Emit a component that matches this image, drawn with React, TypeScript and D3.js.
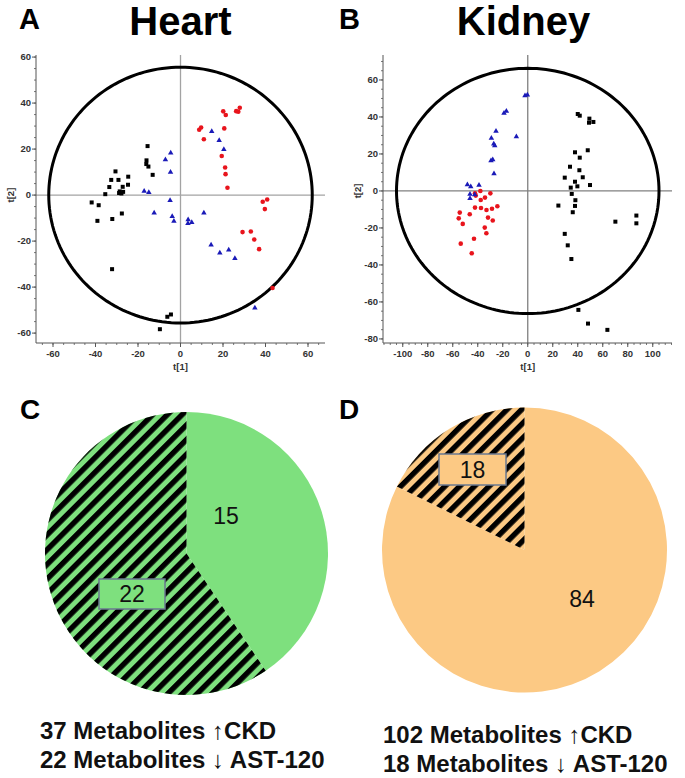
import React from "react";
import * as d3 from "d3";

type P = [number, number];

// ---------- Heart PCA scores ----------
const heartBlack: P[] = [
  [-15.5, 21.3], [-16, 15.1], [-16.1, 13.5], [-15.1, 12.4], [-13.1, 8.8], [-30.6, 10.3],
  [-32.6, 6.6], [-29.2, 6.6], [-24.6, 8.0], [-33.5, 3.5], [-24.7, 4.5], [-27.2, 3.6],
  [-28.6, 1.6], [-27.8, 0.7], [-27.0, 1.4], [-28.9, 0.9], [-35.4, 0.4], [-41.8, -3.2],
  [-38.5, -4.4], [-39.1, -11.2], [-27.6, -8.0], [-32.1, -10.4], [-32.2, -32.2],
  [-6.2, -52.9], [-4.5, -51.9], [-9.7, -58.3],
];
const heartRed: P[] = [
  [27.9, 38], [27.2, 36.2], [26.2, 36.5], [20.1, 36.4], [21.3, 34.8], [9.7, 29.4],
  [8.8, 28.4], [11, 24.3], [20.6, 29], [19.4, 17], [21, 12], [21.2, 9.1], [22.1, 3.2],
  [40.8, -1.9], [38.7, -2.9], [39.7, -6.1], [29.2, -16.1], [33.1, -15.8], [34.7, -19.3],
  [37, -23.5], [43.3, -40.4],
];
const heartBlue: P[] = [
  [14.7, 27.7], [18.2, 23.8], [20.4, 19.9], [-4.6, 18.3], [-7.1, 15.4], [-4.7, 10],
  [-17.1, 1.7], [-14.9, 1.2], [-4.9, -2.3], [-12.4, -7.7], [-3.9, -9.3], [-3.1, -11.3],
  [3.6, -10.7], [3.5, -12.3], [5.3, -11.9], [11, -7.8], [14.4, -21.7], [18.5, -25.1],
  [22.7, -23.8], [25.6, -27.5], [35, -49.1],
];

// ---------- Kidney PCA scores ----------
const kidneyBlack: P[] = [
  [40, 41.6], [41.6, 40.7], [49.3, 39.1], [49, 36.9], [52.5, 37.3], [37.8, 20.9],
  [48, 22], [41.6, 18], [33.8, 13.1], [41.3, 11.2], [29.6, 7.2], [44, 7.4], [37.8, 5],
  [39.7, 2.5], [49.8, 3.2], [34.4, 1.8], [35.2, -1.6], [38.1, -5], [24.5, -7.9],
  [37.8, -8.1], [36, -11.5], [70.1, -16.6], [86.9, -13.3], [86.9, -17.5], [29.6, -23.2],
  [32, -29.4], [34.9, -36.8], [40.5, -64.3], [48.2, -71.7], [63.7, -75.1],
];
const kidneyRed: P[] = [
  [-37.9, 0], [-42.2, -1.3], [-41.6, -2.5], [-37.6, -4.9], [-34.2, -3.6], [-29.9, -1.3],
  [-42.2, -9], [-37.4, -9.2], [-33, -10.3], [-24.3, -8.3], [-28.6, -9.6], [-54.4, -11.7],
  [-46.4, -12.6], [-55.2, -14.8], [-52, -17.8], [-31.8, -14.4], [-28, -16], [-34.4, -19.8],
  [-33.1, -22.9], [-43, -25.8], [-53.6, -28.5], [-44.8, -33.7],
];
const kidneyBlue: P[] = [
  [-2.2, 51.5], [-0.3, 51.9], [-19, 42], [-17.1, 43.1], [-25.4, 32.3], [-9.1, 29.4],
  [-29.1, 28.6], [-27.2, 25.4], [-26.4, 24.5], [-29.4, 16.4], [-28, 16.9], [-27, 9.4],
  [-48.3, 3.4], [-45.6, 2.3], [-39, 3.1], [-46.2, -1.8], [-42.4, -2], [-46.2, -4.1],
];

const heartXTicks = [-60, -40, -20, 0, 20, 40, 60];
const heartYTicks = [-60, -40, -20, 0, 20, 40, 60];
const kidneyXTicks = [-100, -80, -60, -40, -20, 0, 20, 40, 60, 80, 100];
const kidneyYTicks = [-80, -60, -40, -20, 0, 20, 40, 60];

// ---------- Pie data ----------
const heartPie = [15, 22]; // plain, hatched
const kidneyPie = [84, 18]; // plain, hatched
const heartLines = ["37 Metabolites \u2191CKD", "22 Metabolites \u2193 AST-120"];
const kidneyLines = ["102 Metabolites \u2191CKD", "18 Metabolites \u2193 AST-120"];

const FONT = "'Liberation Sans', Arial, Helvetica, sans-serif";

type ScatterProps = {
  xDomain: [number, number];
  yDomain: [number, number];
  xRange: [number, number];
  yRange: [number, number];
  xTicks: number[];
  yTicks: number[];
  rx: number;
  ry: number;
  black: P[];
  red: P[];
  blue: P[];
  crossColor: string;
};

function Scatter(p: ScatterProps) {
  const x = d3.scaleLinear().domain(p.xDomain).range(p.xRange);
  const y = d3.scaleLinear().domain(p.yDomain).range(p.yRange);
  const axisColor = "#555";
  const minorX = d3.range(Math.ceil(p.xDomain[0] / 5) * 5, p.xDomain[1], 5);
  const minorY = d3.range(Math.ceil(p.yDomain[0] / 5) * 5, p.yDomain[1], 5);
  const tri = d3.symbol().type(d3.symbolTriangle).size(13)() as string;
  const x0 = p.xRange[0];
  const yb = p.yRange[0];
  const ellipse = d3.range(0, 361, 2).map((a) => {
    const t = (a * Math.PI) / 180;
    return [x(p.rx * Math.cos(t)), y(p.ry * Math.sin(t))] as [number, number];
  });
  return (
    <g>
      <line x1={x(0)} x2={x(0)} y1={p.yRange[1]} y2={p.yRange[0]} stroke={p.crossColor} strokeWidth={1.3} />
      <line x1={p.xRange[0]} x2={p.xRange[1]} y1={y(0)} y2={y(0)} stroke={p.crossColor} strokeWidth={1.3} />
      <line x1={x0} x2={x0} y1={p.yRange[1]} y2={yb} stroke={axisColor} strokeWidth={1} />
      <line x1={x0} x2={p.xRange[1]} y1={yb} y2={yb} stroke={axisColor} strokeWidth={1} />
      {minorX.map((v) => (
        <line key={"mx" + v} x1={x(v)} x2={x(v)} y1={yb} y2={yb + 2} stroke={axisColor} strokeWidth={0.8} />
      ))}
      {minorY.map((v) => (
        <line key={"my" + v} x1={x0 - 2} x2={x0} y1={y(v)} y2={y(v)} stroke={axisColor} strokeWidth={0.8} />
      ))}
      {p.xTicks.map((v) => (
        <g key={"tx" + v}>
          <line x1={x(v)} x2={x(v)} y1={yb} y2={yb + 4} stroke={axisColor} strokeWidth={1} />
          <text x={x(v)} y={yb + 14} textAnchor="middle" fontSize={9.5} fontWeight="bold" fill="#333" fontFamily={FONT}>
            {v}
          </text>
        </g>
      ))}
      {p.yTicks.map((v) => (
        <g key={"ty" + v}>
          <line x1={x0 - 4} x2={x0} y1={y(v)} y2={y(v)} stroke={axisColor} strokeWidth={1} />
          <text x={x0 - 5} y={y(v) + 3} textAnchor="end" fontSize={9.5} fontWeight="bold" fill="#333" fontFamily={FONT}>
            {v}
          </text>
        </g>
      ))}
      <text x={x(0)} y={yb + 27} textAnchor="middle" fontSize={9.5} fontWeight="bold" fill="#333" fontFamily={FONT}>
        t[1]
      </text>
      <text
        transform={`translate(${x0 - 22},${y(0)}) rotate(-90)`}
        textAnchor="middle"
        fontSize={9.5}
        fontWeight="bold"
        fill="#333"
        fontFamily={FONT}
      >
        t[2]
      </text>
      <path d={d3.line()(ellipse) as string} fill="none" stroke="#000" strokeWidth={3} />
      {p.black.map((d, i) => (
        <rect key={"b" + i} x={x(d[0]) - 2} y={y(d[1]) - 2} width={4} height={4} fill="#000" />
      ))}
      {p.red.map((d, i) => (
        <circle key={"r" + i} cx={x(d[0])} cy={y(d[1])} r={2.3} fill="#e8141c" />
      ))}
      {p.blue.map((d, i) => (
        <path key={"u" + i} d={tri} transform={`translate(${x(d[0])},${y(d[1])})`} fill="#1a1ab8" />
      ))}
    </g>
  );
}

type PieProps = {
  cx: number;
  cy: number;
  r: number;
  values: number[];
  color: string;
  plainLabel: [number, number];
  box: [number, number, number, number];
  lines: string[];
  textX: number;
  textY: number;
};

function Pie(p: PieProps) {
  const pie = d3.pie<number>().sort(null).value((d) => d)(p.values);
  const arc = d3.arc<d3.PieArcDatum<number>>().innerRadius(0).outerRadius(p.r);
  const [bx, by, bw, bh] = p.box;
  return (
    <g>
      <g transform={`translate(${p.cx},${p.cy})`}>
        {pie.map((s, i) => (
          <path key={"s" + i} d={arc(s) as string} fill={p.color} />
        ))}
        <path d={arc(pie[1]) as string} fill="url(#hatch)" />
      </g>
      <text x={p.plainLabel[0]} y={p.plainLabel[1]} textAnchor="middle" fontSize={23} fill="#111" fontFamily={FONT}>
        {p.values[0]}
      </text>
      <rect x={bx} y={by} width={bw} height={bh} fill={p.color} stroke="#6a7890" strokeWidth={1.5} />
      <text x={bx + bw / 2} y={by + bh / 2 + 8} textAnchor="middle" fontSize={23} fill="#111" fontFamily={FONT}>
        {p.values[1]}
      </text>
      {p.lines.map((l, i) => (
        <text key={"l" + i} x={p.textX} y={p.textY + i * 28.5} fontSize={24} fontWeight="bold" fill="#111" fontFamily={FONT}>
          {l}
        </text>
      ))}
    </g>
  );
}

export default function App() {
  return (
    <svg width={685} height={778} style={{ position: "absolute", left: 0, top: 0, background: "#fff" }}>
      <defs>
        <pattern id="hatch" patternUnits="userSpaceOnUse" width={10.4} height={10.4} patternTransform="rotate(45)">
          <rect x={0} y={0} width={5.4} height={10.4} fill="#000" />
        </pattern>
      </defs>
      <rect x={0} y={0} width={685} height={778} fill="#fff" />
      <text x={19} y={29} fontSize={29} fontWeight="bold" fontFamily={FONT}>A</text>
      <text x={180.5} y={35} fontSize={40} fontWeight="bold" textAnchor="middle" fontFamily={FONT}>Heart</text>
      <text x={339} y={29} fontSize={29} fontWeight="bold" fontFamily={FONT}>B</text>
      <text x={523.5} y={35} fontSize={40} fontWeight="bold" textAnchor="middle" fontFamily={FONT}>Kidney</text>
      <text x={20} y={419} fontSize={28} fontWeight="bold" fontFamily={FONT}>C</text>
      <text x={339} y={419} fontSize={28} fontWeight="bold" fontFamily={FONT}>D</text>

      <Scatter
        xDomain={[-68, 68]}
        yDomain={[-64.3, 60.9]}
        xRange={[36, 325]}
        yRange={[343, 55]}
        xTicks={heartXTicks}
        yTicks={heartYTicks}
        rx={62}
        ry={55.6}
        black={heartBlack}
        red={heartRed}
        blue={heartBlue}
        crossColor="#a3a3a3"
      />
      <Scatter
        xDomain={[-115.8, 115.4]}
        yDomain={[-82.2, 73.5]}
        xRange={[383, 672]}
        yRange={[343, 55]}
        xTicks={kidneyXTicks}
        yTicks={kidneyYTicks}
        rx={105}
        ry={66.3}
        black={kidneyBlack}
        red={kidneyRed}
        blue={kidneyBlue}
        crossColor="#808080"
      />

      <Pie
        cx={186.5}
        cy={553.5}
        r={141.5}
        values={heartPie}
        color="#7ee07e"
        plainLabel={[226, 524]}
        box={[99, 579, 66, 30]}
        lines={heartLines}
        textX={40}
        textY={739}
      />
      <Pie
        cx={524.5}
        cy={550}
        r={142.5}
        values={kidneyPie}
        color="#fcc984"
        plainLabel={[582, 607]}
        box={[439, 454, 67, 31]}
        lines={kidneyLines}
        textX={383}
        textY={743}
      />
    </svg>
  );
}
